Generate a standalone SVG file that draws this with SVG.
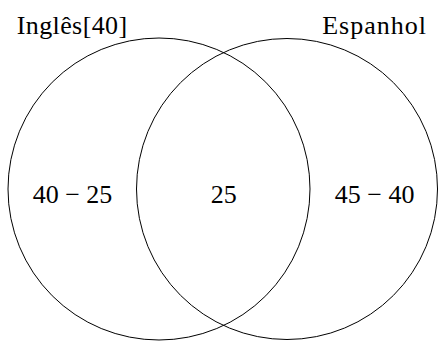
<svg xmlns="http://www.w3.org/2000/svg" width="439" height="341" viewBox="0 0 439 341">
<rect width="439" height="341" fill="#fff"/>
<g id="ingles">
<circle cx="159" cy="189" r="151" fill="none" stroke="#000" stroke-width="1"/>
<text x="16.7" y="34" font-family="Liberation Serif" font-size="26" fill="#000" letter-spacing="0.4">Inglês[40]</text>
<text x="72.5" y="203" font-family="Liberation Serif" font-size="26" fill="#000" text-anchor="middle">40 − 25</text>
</g>
<g id="espanhol">
<circle cx="287" cy="189" r="150.5" fill="none" stroke="#000" stroke-width="1"/>
<text x="427" y="34" font-family="Liberation Serif" font-size="26" fill="#000" text-anchor="end" letter-spacing="1">Espanhol</text>
<text x="374.7" y="203" font-family="Liberation Serif" font-size="26" fill="#000" text-anchor="middle">45 − 40</text>
</g>
<g id="intersecao">
<text x="223.7" y="203" font-family="Liberation Serif" font-size="26" fill="#000" text-anchor="middle">25</text>
</g>
<g id="connectors"></g>
</svg>
